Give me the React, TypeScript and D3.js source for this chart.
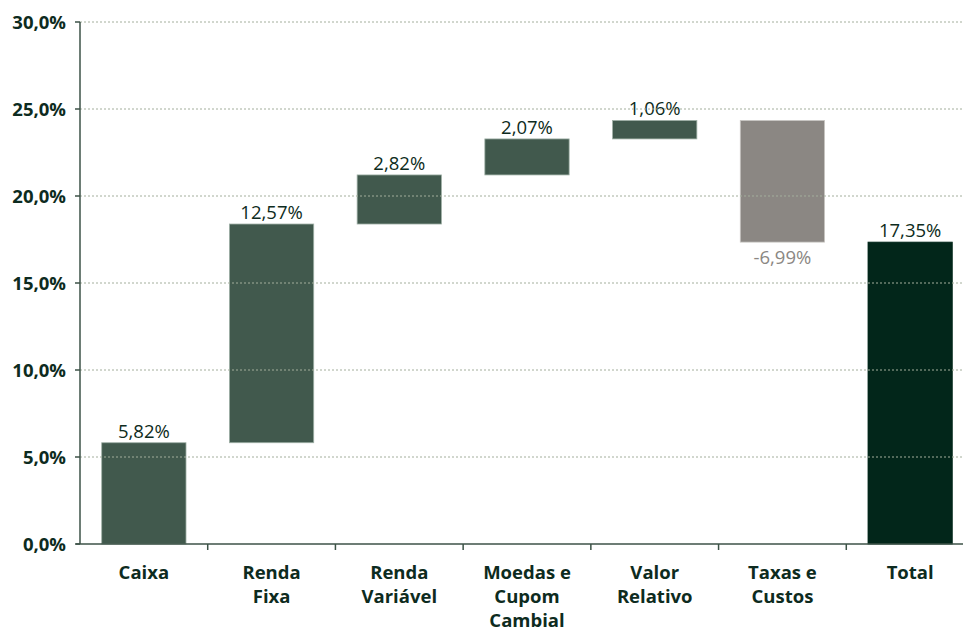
import React from "react";
import * as d3 from "d3";

const categories: string[][] = [
  ["Caixa"],
  ["Renda", "Fixa"],
  ["Renda", "Variável"],
  ["Moedas e", "Cupom", "Cambial"],
  ["Valor", "Relativo"],
  ["Taxas e", "Custos"],
  ["Total"],
];
const deltas: number[] = [5.82, 12.57, 2.82, 2.07, 1.06, -6.99];
const totalValue = 17.35;
const labels: string[] = ["5,82%", "12,57%", "2,82%", "2,07%", "1,06%", "-6,99%", "17,35%"];
const yTicks: number[] = [0, 5, 10, 15, 20, 25, 30];

const W = 963;
const H = 632;
const margin = { left: 80, top: 22, bottom: 88 };
const plotRight = 974;

const BAR = "#41594d";
const BAR_STROKE = "#9fb0a6";
const NEG = "#8b8783";
const TOTAL = "#02261a";
const TEXT = "#0d2b20";
const AXIS = "#3c5247";
const FONT = "'Open Sans', 'Noto Sans', sans-serif";

export default function App() {
  const x = d3
    .scaleBand<number>()
    .domain(d3.range(categories.length))
    .range([margin.left, plotRight])
    .paddingInner(0.34)
    .paddingOuter(0.17);
  const y = d3.scaleLinear().domain([0, 30]).range([H - margin.bottom, margin.top]);

  const step = x.step();
  let cum = 0;
  const bars = deltas.map((d, i) => {
    const start = cum;
    cum += d;
    return { i, start, end: cum, neg: d < 0 };
  });
  bars.push({ i: 6, start: 0, end: totalValue, neg: false });

  const fmt = (v: number) => d3.format(".1f")(v).replace(".", ",") + "%";

  return (
    <svg width={W} height={H} style={{ position: "absolute", left: 0, top: 0 }} fontFamily={FONT}>
      <rect width={W} height={H} fill="#fff" />
      {bars.map((b) => {
        const top = y(Math.max(b.start, b.end));
        const bottom = y(Math.min(b.start, b.end));
        const fill = b.i === 6 ? TOTAL : b.neg ? NEG : BAR;
        const stroke = b.i === 6 ? TOTAL : b.neg ? "#c9c6c3" : BAR_STROKE;
        const cx = (x(b.i) as number) + x.bandwidth() / 2;
        return (
          <g key={b.i}>
            <rect
              x={x(b.i)}
              y={top}
              width={x.bandwidth()}
              height={bottom - top}
              fill={fill}
              stroke={stroke}
              strokeWidth={0.8}
            />
            <text
              x={cx}
              y={b.neg ? bottom + 22 : top - 5}
              textAnchor="middle"
              fontSize={18.5}
              fill={b.neg ? NEG : TEXT}
            >
              {labels[b.i]}
            </text>
          </g>
        );
      })}
      {yTicks.slice(1).map((t) => (
        <line
          key={t}
          x1={margin.left}
          x2={W}
          y1={y(t)}
          y2={y(t)}
          stroke="#a3ae9c"
          strokeWidth={1}
          strokeDasharray="2,2"
        />
      ))}
      <line x1={margin.left} x2={margin.left} y1={y(30)} y2={y(0)} stroke={AXIS} strokeWidth={1.5} />
      <line x1={margin.left - 4} x2={W} y1={y(0)} y2={y(0)} stroke={AXIS} strokeWidth={1.5} />
      {yTicks.map((t) => (
        <g key={t}>
          <line x1={margin.left - 5} x2={margin.left} y1={y(t)} y2={y(t)} stroke={AXIS} strokeWidth={1.5} />
          <text
            x={margin.left - 14}
            y={y(t)}
            dy="0.36em"
            textAnchor="end"
            fontSize={18.5}
            fontWeight={700}
            fill={TEXT}
          >
            {fmt(t)}
          </text>
        </g>
      ))}
      {d3.range(1, categories.length).map((i) => (
        <line
          key={i}
          x1={margin.left + i * step}
          x2={margin.left + i * step}
          y1={y(0)}
          y2={y(0) + 6}
          stroke={AXIS}
          strokeWidth={1.5}
        />
      ))}
      {categories.map((lines, i) => {
        const cx = (x(i) as number) + x.bandwidth() / 2;
        return (
          <text key={i} textAnchor="middle" fontSize={18.5} fontWeight={700} fill={TEXT}>
            {lines.map((l, j) => (
              <tspan key={j} x={cx} y={y(0) + 35 + j * 24}>
                {l}
              </tspan>
            ))}
          </text>
        );
      })}
    </svg>
  );
}
